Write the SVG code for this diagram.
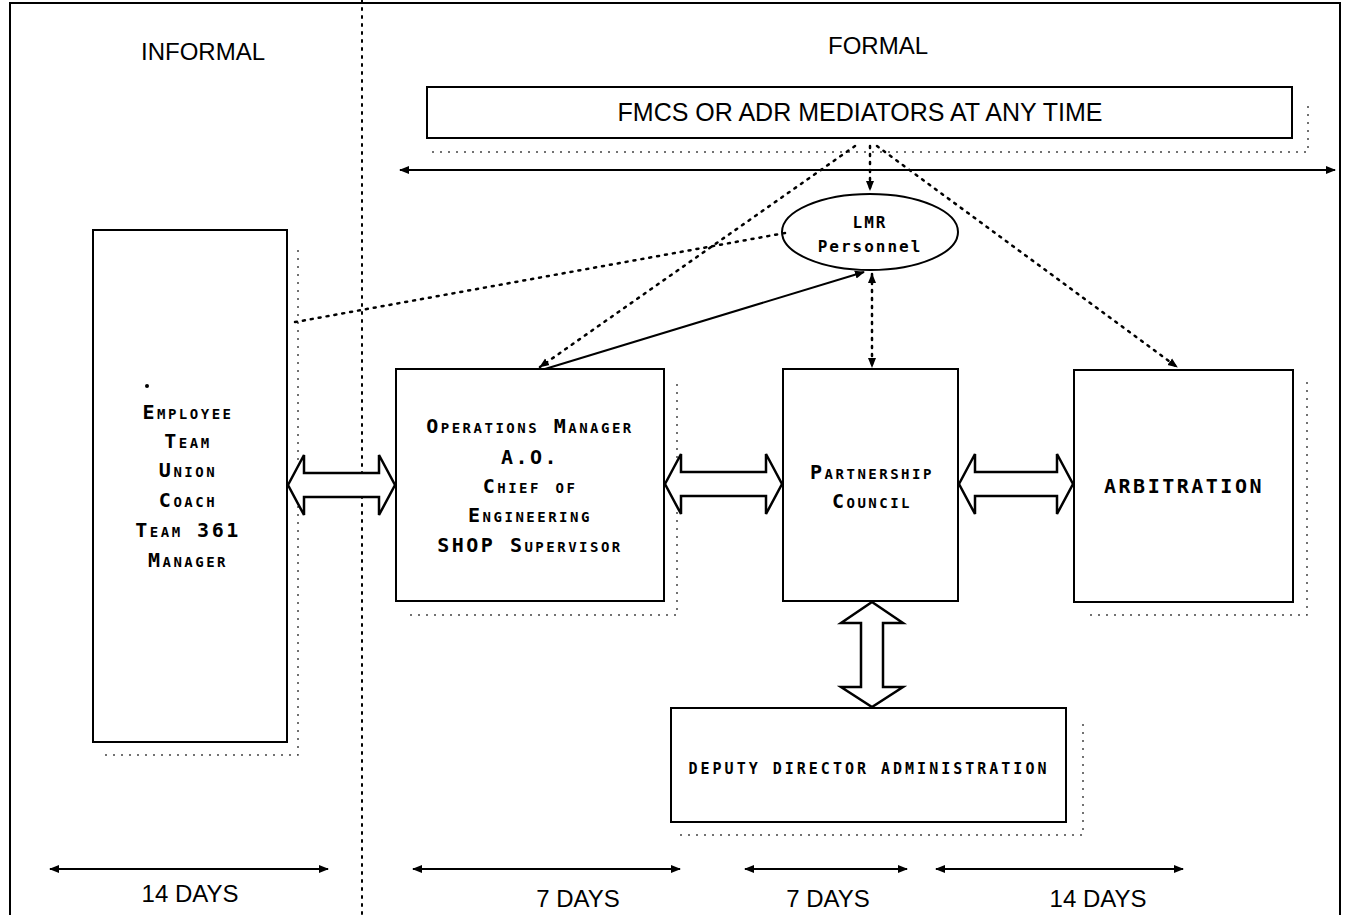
<svg xmlns="http://www.w3.org/2000/svg" width="1349" height="915" viewBox="0 0 1349 915">
<defs>
<marker id="ah" viewBox="0 0 10 10" refX="9" refY="5" markerWidth="10" markerHeight="10" markerUnits="userSpaceOnUse" orient="auto-start-reverse">
<path d="M0,1 L10,5 L0,9 Z" fill="#000"/>
</marker>
<style>
.box{fill:#fff;stroke:#000;stroke-width:2}
.shadow{fill:none;stroke:#444;stroke-width:1.5;stroke-dasharray:2 6}
.lbl{font-family:"Liberation Sans",Arial,sans-serif;font-size:24px;fill:#000;text-anchor:middle}
.big{font-size:25px}
.nt{font-family:"DejaVu Sans Mono","Liberation Mono",monospace;font-weight:bold;font-size:20px;font-variant:small-caps;fill:#000;text-anchor:middle;letter-spacing:2.5px}
.sm{font-size:15px;letter-spacing:3px}
.dot{fill:none;stroke:#000;stroke-width:2.5;stroke-dasharray:2 6;stroke-linecap:round}
.sol{fill:none;stroke:#000;stroke-width:2}
.blk{fill:#fff;stroke:#000;stroke-width:2.5;stroke-linejoin:miter}
.lmr{font-family:"DejaVu Sans Mono",monospace;font-weight:bold;font-size:16px;text-anchor:middle;letter-spacing:2px}
</style>
</defs>
<rect width="1349" height="915" fill="#fff"/>
<g id="frame">
<path d="M10,915 V3 H1340 V915" fill="none" stroke="#000" stroke-width="2"/>
<line x1="362" y1="0" x2="362" y2="915" stroke="#000" stroke-width="2" stroke-dasharray="2 6" stroke-linecap="round"/>
</g>
<text class="lbl" x="203" y="60">INFORMAL</text>
<text class="lbl" x="878" y="54">FORMAL</text>
<g id="fmcs">
<path class="shadow" d="M432,152 H1308 V100"/>
<rect class="box" x="427" y="87" width="865" height="51"/>
<text class="lbl big" x="860" y="121">FMCS OR ADR MEDIATORS AT ANY TIME</text>
</g>
<g id="lmr">
<ellipse cx="870" cy="232" rx="88" ry="38" fill="#fff" stroke="#000" stroke-width="2"/>
<text class="lmr" x="870" y="228">LMR</text>
<text class="lmr" x="870" y="252">Personnel</text>
</g>
<g id="employee">
<path class="shadow" d="M105,755 H298 V245"/>
<rect class="box" x="93" y="230" width="194" height="512"/>
<circle cx="147" cy="386" r="2" fill="#000"/>
<text class="nt" x="188" y="419">Employee</text>
<text class="nt" x="188" y="448">Team</text>
<text class="nt" x="188" y="477">Union</text>
<text class="nt" x="188" y="507">Coach</text>
<text class="nt" x="188" y="537">Team 361</text>
<text class="nt" x="188" y="567">Manager</text>
</g>
<g id="operations">
<path class="shadow" d="M410,615 H677 V382"/>
<rect class="box" x="396" y="369" width="268" height="232"/>
<text class="nt" x="530" y="433">Operations Manager</text>
<text class="nt" x="530" y="464">A.O.</text>
<text class="nt" x="530" y="493">Chief of</text>
<text class="nt" x="530" y="522">Engineering</text>
<text class="nt" x="530" y="552">SHOP Supervisor</text>
</g>
<g id="partnership">
<rect class="box" x="783" y="369" width="175" height="232"/>
<text class="nt" x="872" y="479">Partnership</text>
<text class="nt" x="872" y="508">Council</text>
</g>
<g id="arbitration">
<path class="shadow" d="M1090,615 H1307 V382"/>
<rect class="box" x="1074" y="370" width="219" height="232"/>
<text class="nt" x="1184" y="493">ARBITRATION</text>
</g>
<g id="deputy">
<path class="shadow" d="M680,835 H1083 V722"/>
<rect class="box" x="671" y="708" width="395" height="114"/>
<text class="nt sm" x="869" y="774">DEPUTY DIRECTOR ADMINISTRATION</text>
</g>
<g id="connectors">
<line class="sol" x1="400" y1="170" x2="1335" y2="170" marker-start="url(#ah)" marker-end="url(#ah)"/>
<line class="dot" x1="870" y1="146" x2="870" y2="190" marker-end="url(#ah)"/>
<line class="dot" x1="855" y1="146" x2="540" y2="367" marker-end="url(#ah)"/>
<line class="dot" x1="877" y1="146" x2="1177" y2="367" marker-end="url(#ah)"/>
<line class="dot" x1="785" y1="233" x2="290" y2="323"/>
<line class="sol" x1="545" y1="369" x2="864" y2="272" marker-end="url(#ah)"/>
<line class="dot" x1="872" y1="274" x2="872" y2="367" marker-start="url(#ah)" marker-end="url(#ah)"/>
<path class="blk" d="M288,485 L304,455 L304,473 L379,473 L379,455 L395,485 L379,515 L379,497 L304,497 L304,515 Z"/>
<path class="blk" d="M665,484 L681,454 L681,472 L766,472 L766,454 L782,484 L766,514 L766,496 L681,496 L681,514 Z"/>
<path class="blk" d="M959,484 L975,454 L975,472 L1057,472 L1057,454 L1073,484 L1057,514 L1057,496 L975,496 L975,514 Z"/>
<path class="blk" d="M872,602 L903,623 L883,623 L883,687 L903,687 L872,707 L841,687 L861,687 L861,623 L841,623 Z"/>
<line class="sol" x1="50" y1="869" x2="328" y2="869" marker-start="url(#ah)" marker-end="url(#ah)"/>
<line class="sol" x1="413" y1="869" x2="680" y2="869" marker-start="url(#ah)" marker-end="url(#ah)"/>
<line class="sol" x1="745" y1="869" x2="907" y2="869" marker-start="url(#ah)" marker-end="url(#ah)"/>
<line class="sol" x1="936" y1="869" x2="1183" y2="869" marker-start="url(#ah)" marker-end="url(#ah)"/>
</g>
<text class="lbl" x="190" y="902">14 DAYS</text>
<text class="lbl" x="578" y="907">7 DAYS</text>
<text class="lbl" x="828" y="907">7 DAYS</text>
<text class="lbl" x="1098" y="907">14 DAYS</text>
</svg>
